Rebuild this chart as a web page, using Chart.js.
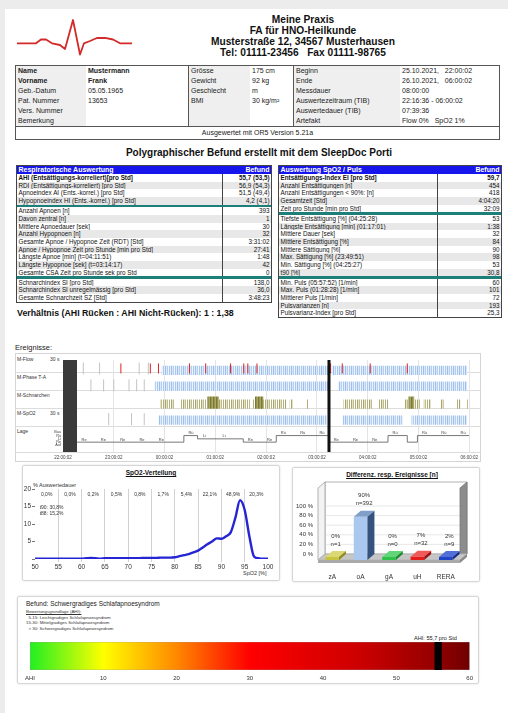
<!DOCTYPE html>
<html lang="de">
<head>
<meta charset="UTF-8">
<meta name="viewport" content="width=device-width, initial-scale=1.0">
<title>Polygraphischer Befund</title>
<script src="https://cdn.jsdelivr.net/npm/chart.js"></script>
<style>
    html, body { margin: 0; padding: 0; }
    body {
        width: 508px; height: 713px; overflow: hidden; position: relative;
        background: #ececec; color: #111;
        font-family: Arial, "Liberation Sans", sans-serif;
    }
    .page { position: absolute; left: 5px; top: 9px; right: 0; bottom: 0; background: #fff; }
    .abs { position: absolute; white-space: nowrap; }
    .head { left: 150px; top: 14px; width: 306px; text-align: center; font-weight: bold; font-size: 10.2px; line-height: 11.1px; }
    #pt { left: 15px; top: 65px; width: 485px; border: 1px solid #555; box-sizing: border-box; font-size: 7px; color: #222; }
    #pt .r { display: flex; height: 10px; line-height: 10px; }
    #pt .c { overflow: hidden; padding-left: 2px; box-sizing: border-box; white-space: pre; }
    #pt .lab { background: #efefef; }
    #pt .grp { border-left: 1px solid #555; }
    #pt .b { font-weight: bold; }
    #pt .foot { height: 12px; line-height: 12px; border-top: 1px solid #555; text-align: center; }
    .title { left: 0; width: 518px; top: 147px; text-align: center; font-weight: bold; font-size: 10px; }
    .dt { border: 1px solid #444; font-size: 6.3px; color: #111; box-sizing: border-box; }
    .dt .r { display: flex; height: 7.7px; line-height: 7.7px; }
    .dt .r.alt { background: #e8e8e8; }
    .dt .l { flex: 1; padding-left: 1.5px; overflow: hidden; white-space: nowrap; }
    .dt .v { text-align: right; padding-right: 1.5px; border-left: 1px solid #444; box-sizing: border-box; white-space: nowrap; }
    .dt .hd { background: #1616ec; color: #fff; font-weight: bold; font-size: 7px; height: 8px; line-height: 8px; }
    .dt .hd .v { border-left-color: #1616ec; }
    .dt .sep { height: 2.4px; background: #1d7f7a; }
    .dt .b { font-weight: bold; }
    .ratio { left: 17px; top: 308px; font-weight: bold; font-size: 8.8px; }
    .tlbox { left: 15px; top: 353px; width: 466px; height: 109px; border: 1px solid #d4d4d4; box-sizing: border-box; }
    .tllab { font-size: 5px; color: #333; }
    .box { border: 1px solid #d6d6d6; border-radius: 2px; box-shadow: 0 0 2px rgba(0,0,0,0.15); box-sizing: border-box; }
    .ctitle { font-weight: bold; font-size: 6.5px; text-decoration: underline; text-align: center; }
    .small { font-size: 5.5px; color: #333; }
    canvas { position: absolute; }
</style>
</head>
<body>
<div class="page"></div>

<svg class="abs" style="left:0;top:0" width="140" height="62">
    <polyline points="17,43.3 36,43.3 41,39.5 46,39.5 52,43.3 60,45 65,49 73,20 80,54.5 84,43.3 90,41 97,38 105,37.8 113,39.5 120,43.3 132,43.3"
              fill="none" stroke="#d42a2a" stroke-width="1.8" stroke-linejoin="round"/>
</svg>
<div class="abs head" id="head"></div>

<div class="abs" id="pt"></div>

<div class="abs title">Polygraphischer Befund erstellt mit dem SleepDoc Porti</div>
<div class="abs dt" id="tblResp" style="left:16px;top:165px;width:256px"></div>
<div class="abs dt" id="tblSpo2" style="left:278px;top:165px;width:224px"></div>
<div class="abs ratio">Verhältnis (AHI Rücken : AHI Nicht-Rücken): 1 : 1,38</div>

<div class="abs" style="left:15px;top:343px;font-size:7.5px;color:#222">Ereignisse:</div>
<div class="abs tlbox"></div>
<div id="tlLabels"></div>
<canvas id="tl" width="466" height="109" style="left:15px;top:353px"></canvas>

<div class="abs box" style="left:22px;top:465px;width:258px;height:116px"></div>
<div class="abs ctitle" style="left:22px;top:469px;width:258px">SpO2-Verteilung</div>
<div class="abs small" style="left:33px;top:482px">% Auswertedauer</div>
<div class="abs small" style="left:243px;top:570px">SpO2 [%]</div>
<canvas id="spo2" width="258" height="100" style="left:22px;top:478px"></canvas>

<div class="abs box" style="left:292px;top:467px;width:188px;height:115px"></div>
<div class="abs ctitle" style="left:292px;top:471px;width:200px">Differenz. resp. Ereignisse [n]</div>
<canvas id="evt" width="188" height="104" style="left:292px;top:478px"></canvas>

<div class="abs box" style="left:17px;top:596px;width:462px;height:88px"></div>
<div class="abs" style="left:26px;top:600px;font-size:6.5px;color:#222">Befund: Schwergradiges Schlafapnoesyndrom</div>
<div class="abs" id="ahiInfo" style="left:26px;top:609px;font-size:4.4px;line-height:5.6px;color:#333"></div>
<div class="abs" id="ahiLabel" style="left:414px;top:635px;font-size:5.6px;color:#222"></div>
<canvas id="ahi" width="458" height="50" style="left:20px;top:636px"></canvas>

<script>
// ---------- report data ----------
const headerLines = ['Meine Praxis', 'FA für HNO-Heilkunde', 'Musterstraße 12, 34567 Musterhausen', 'Tel: 01111-23456   Fax 01111-98765'];

const patientRows = [
    ['Name', 'Mustermann', 'Grösse', '175 cm', 'Beginn', '25.10.2021,   22:00:02'],
    ['Vorname', 'Frank', 'Gewicht', '92 kg', 'Ende', '26.10.2021,   06:00:02'],
    ['Geb.-Datum', '05.05.1965', 'Geschlecht', 'm', 'Messdauer', '08:00:00'],
    ['Pat. Nummer', '13653', 'BMI', '30 kg/m²', 'Auswertezeitraum (TIB)', '22:16:36 - 06:00:02'],
    ['Vers. Nummer', '', '', '', 'Auswertedauer (TIB)', '07:39:36'],
    ['Bemerkung', '', '', '', 'Artefakt', 'Flow 0%   SpO2 1%']
];
const patientFooter = 'Ausgewertet mit OR5 Version 5.21a';

const respTitle = ['Respiratorische Auswertung', 'Befund'];
const respRows = [
    [
        ['AHI (Entsättigungs-korreliert)[pro Std]', '55,7 (53,5)'],
        ['RDI (Entsättigungs-korreliert) [pro Std]', '56,9 (54,3)'],
        ['Apnoeindex AI (Ents.-korrel.) [pro Std]', '51,5 (49,4)'],
        ['Hypopnoeindex HI (Ents.-korrel.) [pro Std]', '4,2 (4,1)']
    ],
    [
        ['Anzahl Apnoen [n]', '393'],
        ['Davon zentral [n]', '1'],
        ['Mittlere Apnoedauer [sek]', '30'],
        ['Anzahl Hypopnoen [n]', '32'],
        ['Gesamte Apnoe / Hypopnoe Zeit (RDT) [Std]', '3:31:02'],
        ['Apnoe / Hypopnoe Zeit pro Stunde [min pro Std]', '27:41'],
        ['Längste Apnoe [min] (t=04:11:51)', '1:48'],
        ['Längste Hypopnoe [sek] (t=03:14:17)', '42'],
        ['Gesamte CSA Zeit pro Stunde sek pro Std', '0']
    ],
    [
        ['Schnarchindex SI [pro Std]', '138,0'],
        ['Schnarchindex SI unregelmässig [pro Std]', '36,0'],
        ['Gesamte Schnarchzeit SZ [Std]', '3:48:23']
    ]
];

const spo2Title = ['Auswertung SpO2 / Puls', 'Befund'];
const spo2Rows = [
    [
        ['Entsättigungs-Index EI [pro Std]', '59,7'],
        ['Anzahl Entsättigungen [n]', '454'],
        ['Anzahl Entsättigungen < 90%: [n]', '418'],
        ['Gesamtzeit [Std]', '4:04:20'],
        ['Zeit pro Stunde [min pro Std]', '32:09']
    ],
    [
        ['Tiefste Entsättigung [%] (04:25:28)', '53'],
        ['Längste Entsättigung [min] (01:17:01)', '1:38'],
        ['Mittlere Dauer [sek]', '32'],
        ['Mittlere Entsättigung [%]', '84'],
        ['Mittlere Sättigung [%]', '90'],
        ['Max. Sättigung [%] (23:49:51)', '98'],
        ['Min. Sättigung [%] (04:25:27)', '53'],
        ['t90 [%]', '30,8']
    ],
    [
        ['Min. Puls (05:57:52) [1/min]', '60'],
        ['Max. Puls (01:28:28) [1/min]', '101'],
        ['Mittlerer Puls [1/min]', '72'],
        ['Pulsvarianzen [n]', '193'],
        ['Pulsvarianz-Index [pro Std]', '25,3']
    ]
];

// ---------- timeline data (hours after 22:00:02) ----------
const timeLabels = ['22:00:02', '23:00:02', '00:00:02', '01:00:02', '02:00:02', '03:00:02', '04:00:02', '05:00:02', '06:00:02'];
const rowNames = ['M-Flow', 'M-Phase T-A', 'M-Schnarchen', 'M-SpO2', 'Lage'];
const rowUnits = ['30 s', '', '', '30 s', ''];
const analysisStart = 0.276;   // 22:16:36
const cursorTime = 5.238;      // 03:14:17
const flowBands = [[1.94, 5.22], [5.3, 7.96]];
const flowSpikes = [1.14, 1.72, 1.88, 2.49, 2.81, 3.3, 3.56, 3.64, 3.82, 5.27, 5.5, 6.05, 6.78];
const flowGray = [0.4, 0.72, 1.5, 1.68];
const phaseBands = [[1.8, 5.22], [5.42, 7.96]];
const phaseGray = [0.55, 0.8, 1.0, 1.3, 1.45, 1.6];
const snoreBands = [[1.91, 2.2], [2.3, 2.84], [3.07, 3.68], [3.72, 4.4], [4.46, 4.53], [4.8, 4.84], [5.52, 6.1], [6.2, 6.4], [6.72, 7.05], [7.1, 7.25], [7.44, 7.5], [7.75, 7.83], [7.95, 7.99]];
const snoreDense = [[2.84, 3.07], [3.78, 3.95], [6.8, 6.92]];
const spo2Bands = [[1.88, 5.2], [5.5, 6.7], [6.86, 7.96]];
const spo2Gray = [0.9, 1.35, 1.6];
const lageLevels = ['Auf', 'Re', 'Li', 'Rü', 'Bau'];
const lageSegments = [[0.276, 'Re'], [2.38, 'Rü'], [2.65, 'Li'], [3.55, 'Re'], [4.2, 'Rü'], [5.24, 'Re'], [6.4, 'Rü'], [6.78, 'Re'], [6.98, 'Rü']];
const lageEnd = 8;

// ---------- SpO2 distribution ----------
const spo2Sat = [50, 51, 52, 53, 54, 55, 56, 57, 58, 59, 60, 61, 62, 63, 64, 65, 66, 67, 68, 69, 70, 71, 72, 73, 74, 75,
                 76, 77, 78, 79, 80, 81, 82, 83, 84, 85, 86, 87, 88, 89, 90, 91, 92, 93, 94, 95, 96, 97, 98, 99, 100];
const spo2Pct = [0.1, 0.1, 0.1, 0.1, 0.1, 0.1, 0.1, 0.1, 0.1, 0.1, 0.1, 0.2, 0.3, 0.2, 0.1, 0.2, 0.2, 0.2, 0.2, 0.2, 0.2, 0.2, 0.2, 0.3, 0.3, 0.3,
                 0.3, 0.4, 0.4, 0.4, 0.5, 0.8, 1.1, 1.4, 1.9, 2.4, 3.3, 4.2, 5.0, 5.9, 5.8, 6.5, 7.6, 11.8, 16.8, 14.0, 6.5, 0.7, 0.2, 0.1, 0.1];
const spo2Bins = [50, 55, 60, 65, 70, 75, 80, 85, 90, 95];
const spo2BinLabels = ['0,0%', '0,0%', '0,2%', '0,5%', '0,8%', '1,7%', '5,4%', '22,1%', '48,9%', '20,3%'];
const spo2Notes = ['t90: 30,8%', 't88: 15,2%'];

// ---------- respiratory events ----------
const eventTypes = ['zA', 'oA', 'gA', 'uH', 'RERA'];
const eventPct = [0, 90, 0, 7, 2];
const eventCount = [1, 392, 0, 32, 9];
const eventColors = ['#c9c43e', '#a9c8ef', '#2ec24a', '#e41c1c', '#1f44c4'];
const eventTop = ['#dcd873', '#7f9fc9', '#62d676', '#f05a5a', '#5070d8'];
const eventSide = ['#8f8b22', '#35527e', '#1d8a32', '#a01010', '#142e88'];

// ---------- AHI scale ----------
const ahiValue = 55.7;
const ahiMax = 60;
const ahiClasses = ['Bewertungsgrundlage (AHI):', '  5-15: Leichtgradiges Schlafapnoesyndrom', '15-30: Mittelgradiges Schlafapnoesyndrom', '  > 30: Schwergradiges Schlafapnoesyndrom'];
const ahiStops = [[0, '#22ee22'], [10, '#ffff00'], [20, '#ff8800'], [30, '#ff0000'], [45, '#cc0000'], [55, '#960000'], [60, '#700000']];

Chart.defaults.font.family = 'Arial, "Liberation Sans", sans-serif';
Chart.defaults.color = '#333';

// ---------- header + tables ----------
document.getElementById('head').innerHTML = headerLines.map(t => '<div style="white-space:pre">' + t + '</div>').join('');

const ptWidths = [70, 102, 62, 43, 107, 99];
let ptHtml = '';
patientRows.forEach((row, ri) => {
    ptHtml += '<div class="r">';
    row.forEach((cell, ci) => {
        let cls = 'c';
        if (ci % 2 === 0) cls += ' lab';
        if (ci === 2 || ci === 4) cls += ' grp';
        if (ri < 2 && ci < 2) cls += ' b';
        ptHtml += '<div class="' + cls + '" style="width:' + ptWidths[ci] + 'px">' + cell + '</div>';
    });
    ptHtml += '</div>';
});
ptHtml += '<div class="foot">' + patientFooter + '</div>';
document.getElementById('pt').innerHTML = ptHtml;

function buildTable(id, title, sections, valW) {
    let html = '<div class="r hd"><div class="l">' + title[0] + '</div><div class="v" style="width:' + valW + 'px">' + title[1] + '</div></div>';
    sections.forEach((rows, si) => {
        if (si > 0) html += '<div class="sep"></div>';
        rows.forEach((r, i) => {
            let cls = 'r' + (i % 2 ? ' alt' : '') + (si === 0 && i === 0 ? ' b' : '');
            html += '<div class="' + cls + '"><div class="l">' + r[0].replace(/</g, '&lt;') + '</div><div class="v" style="width:' + valW + 'px">' + r[1] + '</div></div>';
        });
    });
    document.getElementById(id).innerHTML = html;
}
buildTable('tblResp', respTitle, respRows, 49);
buildTable('tblSpo2', spo2Title, spo2Rows, 64);

// ---------- timeline ----------
const rowH = [18, 18, 18, 18, 26];
const tlTotal = rowH.reduce((a, b) => a + b, 0);
const rowHi = [];
let acc = tlTotal;
rowH.forEach(h => { rowHi.push(acc); acc -= h; });

let labHtml = '';
let ty = 354;
rowNames.forEach((name, i) => {
    labHtml += '<div class="abs tllab" style="left:17px;top:' + (ty + 2) + 'px">' + name + '</div>';
    if (rowUnits[i]) labHtml += '<div class="abs tllab" style="left:50px;top:' + (ty + 2) + 'px">' + rowUnits[i] + '</div>';
    ty += rowH[i];
    labHtml += '<div class="abs" style="left:15px;width:466px;top:' + ty + 'px;height:1px;background:#dcdcdc"></div>';
});
document.getElementById('tlLabels').innerHTML = labHtml;

const tlCanvas = document.getElementById('tl');
const tlCtx = tlCanvas.getContext('2d');
function stripes(cols) {
    const c = document.createElement('canvas');
    c.width = cols.length; c.height = 4;
    const g = c.getContext('2d');
    cols.forEach((col, i) => { if (col) { g.fillStyle = col; g.fillRect(i, 0, 1, 4); } });
    return tlCtx.createPattern(c, 'repeat');
}
const bluePat = stripes(['#9dbfec', '#dce8f8', '#b5cff1', '#eef4fc', '#a9c7ef', '#e4edfa']);
const olivePat = stripes(['#a8a66a', '#e4e2c8', '#bebc88', '', '#b2b078', '']);
const oliveDense = stripes(['#7a7836', '#96944f', '#aaa865']);

function bandSets(ranges, row, padTop, padBot, bg, order) {
    return ranges.map(([a, b]) => ({
        type: 'line',
        data: [{ x: a, y: rowHi[row] - padTop }, { x: b, y: rowHi[row] - padTop }],
        fill: { value: rowHi[row] - rowH[row] + padBot },
        backgroundColor: bg, borderWidth: 0, pointRadius: 0, order
    }));
}
function tickSet(times, row, len, color, offset, order) {
    return {
        type: 'scatter',
        data: times.map(t => ({ x: t, y: rowHi[row] - rowH[row] / 2 + offset })),
        pointStyle: 'line', pointRotation: 90, pointRadius: len / 2,
        pointBorderColor: color, pointBorderWidth: 1, showLine: false, order
    };
}
function lageY(pos) { return 7 + lageLevels.indexOf(pos) * 3.5; }

const lagePts = lageSegments.map(([t, pos]) => ({ x: t, y: lageY(pos) }));
lagePts.push({ x: lageEnd, y: lageY(lageSegments[lageSegments.length - 1][1]) });

const lagePlugin = {
    id: 'lageText',
    afterDatasetsDraw(chart) {
        const { ctx, chartArea, scales: { x, y } } = chart;
        ctx.save();
        ctx.font = '4px Arial';
        ctx.fillStyle = '#444';
        ctx.textAlign = 'center';
        ctx.textBaseline = 'bottom';
        lageSegments.forEach(([t, pos], i) => {
            const end = i + 1 < lageSegments.length ? lageSegments[i + 1][0] : lageEnd;
            for (let s = t + 0.14; s < end - 0.08; s += 0.38) {
                ctx.fillText(pos, x.getPixelForValue(s), y.getPixelForValue(lageY(pos)) - 0.5);
            }
        });
        ctx.textAlign = 'right';
        ctx.textBaseline = 'middle';
        ctx.font = '3.8px Arial';
        lageLevels.forEach(pos => ctx.fillText(pos, chartArea.left - 2, y.getPixelForValue(lageY(pos))));
        ctx.restore();
    }
};

new Chart(tlCanvas, {
    type: 'line',
    data: {
        datasets: [
            { type: 'line', data: [{ x: cursorTime, y: 0 }, { x: cursorTime, y: tlTotal }], borderColor: '#111', borderWidth: 3, pointRadius: 0, order: 0 },
            { type: 'line', data: [{ x: 0, y: tlTotal }, { x: analysisStart, y: tlTotal }], fill: { value: 0 }, backgroundColor: '#3a3a3a', borderWidth: 0, pointRadius: 0, order: 1 },
            { type: 'line', data: lagePts, stepped: true, borderColor: '#555', borderWidth: 0.8, pointRadius: 0, fill: false, order: 3 },
            tickSet(flowSpikes, 0, 10, '#e02020', 0, 2),
            tickSet(flowGray, 0, 12, '#c4c4c4', 0, 4),
            tickSet(phaseGray, 1, 12, '#c4c4c4', 0, 4),
            tickSet(spo2Gray, 3, 12, '#c4c4c4', 0, 4),
            ...bandSets(flowBands, 0, 6, 2, bluePat, 5),
            ...bandSets(phaseBands, 1, 5, 3, bluePat, 5),
            ...bandSets(snoreDense, 2, 3, 2, oliveDense, 4),
            ...bandSets(snoreBands, 2, 6, 2, olivePat, 5),
            ...bandSets(spo2Bands, 3, 5, 3, bluePat, 5)
        ]
    },
    options: {
        responsive: false, animation: false, devicePixelRatio: 1,
        plugins: { legend: { display: false }, tooltip: { enabled: false } },
        layout: { padding: { left: 48, right: 5, top: 1, bottom: 0 } },
        scales: {
            x: {
                type: 'linear', min: 0, max: 8,
                ticks: { stepSize: 1, autoSkip: false, maxRotation: 0, padding: 3, font: { size: 4.5 }, color: '#444',
                         callback: v => timeLabels[v] || '' },
                grid: { color: '#e4e4e4', drawTicks: false },
                border: { display: false },
                afterFit: s => { s.height = 10; }
            },
            y: { min: 0, max: tlTotal, display: false }
        }
    },
    plugins: [lagePlugin]
});

// ---------- SpO2 distribution ----------
const spo2Text = {
    id: 'spo2Text',
    afterDatasetsDraw(chart) {
        const { ctx, scales: { x, y } } = chart;
        ctx.save();
        ctx.font = '5px Arial';
        ctx.fillStyle = '#333';
        ctx.textAlign = 'center';
        ctx.textBaseline = 'middle';
        spo2Bins.forEach((b, i) => ctx.fillText(spo2BinLabels[i], x.getPixelForValue(b + 2.5), y.getPixelForValue(18.3)));
        ctx.textAlign = 'left';
        spo2Notes.forEach((t, i) => ctx.fillText(t, x.getPixelForValue(51), y.getPixelForValue(14.8 - i * 1.7)));
        ctx.restore();
    }
};

new Chart(document.getElementById('spo2'), {
    type: 'line',
    data: {
        datasets: [{
            data: spo2Sat.map((s, i) => ({ x: s, y: spo2Pct[i] })),
            borderColor: '#2525d6', borderWidth: 2.4, pointRadius: 0,
            cubicInterpolationMode: 'monotone', fill: false
        }]
    },
    options: {
        responsive: false, animation: false, devicePixelRatio: 1,
        plugins: { legend: { display: false }, tooltip: { enabled: false } },
        layout: { padding: { left: 0, right: 12, top: 11, bottom: 0 } },
        scales: {
            x: {
                type: 'linear', min: 50, max: 100,
                ticks: { stepSize: 5, font: { size: 6.5 }, color: '#333', padding: 1, maxRotation: 0 },
                grid: { color: c => (c.tick && (c.tick.value === 50 || c.tick.value === 100)) ? 'rgba(0,0,0,0)' : '#d2d2d2', tickLength: 3 },
                border: { display: false },
                afterFit: s => { s.height = 19; }
            },
            y: {
                min: 0, max: 20,
                ticks: { stepSize: 5, font: { size: 6.5 }, color: '#333', padding: 1, callback: v => v === 0 ? '' : v },
                grid: { drawOnChartArea: false, tickLength: 3, color: '#777' },
                border: { display: false },
                afterFit: s => { s.width = 13; }
            }
        }
    },
    plugins: [spo2Text]
});

// ---------- respiratory events (3D look) ----------
const depth = { dx: 7, dy: 6 };
function poly(ctx, pts, fill, stroke) {
    ctx.beginPath();
    pts.forEach(([px, py], i) => i ? ctx.lineTo(px, py) : ctx.moveTo(px, py));
    ctx.closePath();
    ctx.fillStyle = fill;
    ctx.fill();
    if (stroke) { ctx.strokeStyle = stroke; ctx.lineWidth = 0.8; ctx.stroke(); }
}
const bar3d = {
    id: 'bar3d',
    beforeDatasetsDraw(chart) {
        const { ctx, chartArea: { left: L, right: R, top: T, bottom: B }, scales: { y } } = chart;
        const { dx, dy } = depth;
        ctx.save();
        poly(ctx, [[L + dx, T - dy], [R + dx, T - dy], [R + dx, B - dy], [L + dx, B - dy]], '#fff', '#a0a0a0');
        ctx.strokeStyle = '#e2e2e2';
        ctx.lineWidth = 0.8;
        y.ticks.forEach(t => {
            if (t.value > 0 && t.value <= 100) {
                const py = y.getPixelForValue(t.value) - dy;
                ctx.beginPath(); ctx.moveTo(L + dx, py); ctx.lineTo(R + dx, py); ctx.stroke();
            }
        });
        poly(ctx, [[L, T], [L + dx, T - dy], [L + dx, B - dy], [L, B]], '#f3f3f3', '#a0a0a0');
        poly(ctx, [[R, T], [R + dx, T - dy], [R + dx, B - dy], [R, B]], '#8c8c8c', '#7a7a7a');
        poly(ctx, [[L, B], [L + dx, B - dy], [R + dx, B - dy], [R, B]], '#c6c6c6', '#b0b0b0');
        poly(ctx, [[L, B], [R, B], [R, B + 3], [L, B + 3]], '#a9a9a9');
        poly(ctx, [[R, B], [R + dx, B - dy], [R + dx, B - dy + 3], [R, B + 3]], '#8a8a8a');
        ctx.restore();
    },
    afterDatasetsDraw(chart) {
        const { ctx } = chart;
        const { dx, dy } = depth;
        ctx.save();
        chart.getDatasetMeta(0).data.forEach((bar, i) => {
            const { x, y, base, width } = bar.getProps(['x', 'y', 'base', 'width'], true);
            const l = x - width / 2, r = x + width / 2;
            poly(ctx, [[l, y], [l + dx, y - dy], [r + dx, y - dy], [r, y]], eventTop[i]);
            poly(ctx, [[r, y], [r + dx, y - dy], [r + dx, base - dy], [r, base]], eventSide[i]);
            ctx.font = '6px Arial';
            ctx.fillStyle = '#333';
            ctx.textAlign = 'center';
            ctx.textBaseline = 'middle';
            ctx.fillText(eventPct[i] + '%', x + dx / 2, y - dy - 15);
            ctx.fillText('n=' + eventCount[i], x + dx / 2, y - dy - 7);
        });
        ctx.restore();
    }
};

new Chart(document.getElementById('evt'), {
    type: 'bar',
    data: {
        labels: eventTypes,
        datasets: [{
            data: eventPct, backgroundColor: eventColors, borderWidth: 0,
            barPercentage: 0.48, categoryPercentage: 1, minBarLength: 3
        }]
    },
    options: {
        responsive: false, animation: false, devicePixelRatio: 1,
        plugins: { legend: { display: false }, tooltip: { enabled: false } },
        layout: { padding: { left: 0, right: 20, top: 10, bottom: 0 } },
        scales: {
            x: {
                ticks: { font: { size: 6.5 }, color: '#333', padding: 13 },
                grid: { display: false, drawTicks: false }, border: { display: false },
                afterFit: s => { s.height = 22; }
            },
            y: {
                min: 0, max: 150,
                ticks: { stepSize: 20, autoSkip: false, font: { size: 6 }, color: '#333', padding: 5, labelOffset: -6,
                         callback: v => v <= 100 ? v + ' %' : '' },
                grid: { display: false, drawTicks: false }, border: { display: false },
                afterFit: s => { s.width = 26; }
            }
        }
    },
    plugins: [bar3d]
});

// ---------- AHI scale ----------
document.getElementById('ahiInfo').innerHTML = ahiClasses.map((t, i) =>
    '<div style="white-space:pre' + (i === 0 ? ';text-decoration:underline' : '') + '">' + t + '</div>').join('');
document.getElementById('ahiLabel').textContent = 'AHI: ' + String(ahiValue).replace('.', ',') + ' pro Std';

new Chart(document.getElementById('ahi'), {
    type: 'bar',
    data: {
        labels: ['AHI'],
        datasets: [
            { data: [[ahiValue - 0.45, ahiValue + 0.45]], backgroundColor: '#000', grouped: false, barPercentage: 1, categoryPercentage: 1, borderSkipped: false },
            {
                data: [[0, ahiMax]], grouped: false, barPercentage: 1, categoryPercentage: 1, borderSkipped: false,
                borderColor: '#9a9a9a', borderWidth: 0.6,
                backgroundColor: ctx => {
                    const { chart } = ctx;
                    const area = chart.chartArea;
                    if (!area) return '#ff0000';
                    const g = chart.ctx.createLinearGradient(area.left, 0, area.right, 0);
                    ahiStops.forEach(([v, c]) => g.addColorStop(v / ahiMax, c));
                    return g;
                }
            }
        ]
    },
    options: {
        indexAxis: 'y',
        responsive: false, animation: false, devicePixelRatio: 1,
        plugins: { legend: { display: false }, tooltip: { enabled: false } },
        layout: { padding: { left: 6, right: 8, top: 6, bottom: 0 } },
        scales: {
            x: {
                min: 0, max: ahiMax,
                ticks: { stepSize: 10, font: { size: 6 }, color: '#333', padding: 5, callback: v => v === 0 ? 'AHI' : v },
                grid: { display: false, drawTicks: false }, border: { display: false },
                afterFit: s => { s.height = 16; }
            },
            y: { display: false }
        }
    }
});
</script>
</body>
</html>
